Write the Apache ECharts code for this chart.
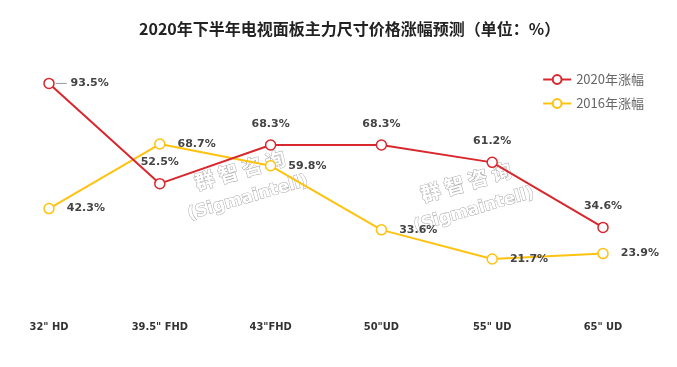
<!DOCTYPE html>
<html><head><meta charset="utf-8">
<script src="https://cdn.jsdelivr.net/npm/echarts@6/dist/echarts.min.js"></script>
<style>html,body{margin:0;padding:0;background:#fff}#c{width:677px;height:367px}</style>
</head><body><div id="c"></div>
<script>
const categories = ['32" HD', '39.5" FHD', '43"FHD', '50"UD', '55" UD', '65" UD'];
const series2020 = [93.5, 52.5, 68.3, 68.3, 61.2, 34.6];
const series2016 = [42.3, 68.7, 59.8, 33.6, 21.7, 23.9];
const seriesNames = ['2020年涨幅', '2016年涨幅'];

const RED = '#d9272e', YEL = '#ffc20e';
const chart = echarts.init(document.getElementById('c'));
const labelBase = {show: true, fontFamily: 'DejaVu Sans', fontWeight: 'bold', fontSize: 11, color: '#444',
  formatter: p => p.value + '%'};
function wm(x, y) {
  return {
    type: 'group', x: x, y: y, rotation: 0.28, z: 100,
    children: [
      {type: 'text', x: 0, y: 0, style: {text: '群 智 咨 询', font: 'bold 20px "Noto Sans CJK SC"', fill: '#fff', stroke: '#aaa', lineWidth: 1, align: 'center', verticalAlign: 'middle'}},
      {type: 'text', x: 0, y: 29, style: {text: '(Sigmaintell)', font: 'bold 17px "DejaVu Sans"', fill: '#fff', stroke: '#aaa', lineWidth: 1, align: 'center', verticalAlign: 'middle'}}
    ]
  };
}
chart.setOption({
  backgroundColor: '#fff',
  animation: false,
  title: {text: '2020年下半年电视面板主力尺寸价格涨幅预测（单位：%）', left: 134, top: 16,
    textStyle: {fontFamily: '"Noto Sans CJK SC"', fontWeight: 'bold', fontSize: 16, color: '#222'}},
  legend: {orient: 'vertical', right: 28, top: 68, itemGap: 11, itemWidth: 28, itemHeight: 11,
    textStyle: {fontFamily: '"Noto Sans CJK SC"', fontSize: 13, color: '#666'},
    data: seriesNames},
  grid: {left: 49, right: 74, top: 67.5, bottom: 55},
  xAxis: {type: 'category', data: categories, boundaryGap: false,
    axisLine: {show: false}, axisTick: {show: false}, splitLine: {show: false},
    axisLabel: {margin: 10, fontFamily: '"DejaVu Sans Condensed", "DejaVu Sans"', fontWeight: 'bold', fontSize: 11, color: '#333'}},
  yAxis: {type: 'value', min: 0, max: 100, show: false, splitLine: {show: false}},
  series: [
    {name: seriesNames[0], type: 'line', data: series2020.map((v, i) => i === 0 ? {value: v, label: {position: 'right', distance: 1,
        formatter: '{ln|} {v|' + v + '%}',
        rich: {ln: {width: 11, height: 1, backgroundColor: '#999'}, v: {fontFamily: 'DejaVu Sans', fontWeight: 'bold', fontSize: 11, color: '#444'}}}} : v),
      symbol: 'circle', symbolSize: 10, color: RED,
      itemStyle: {color: '#fff', borderColor: RED, borderWidth: 1.5},
      lineStyle: {color: RED, width: 2},
      label: Object.assign({}, labelBase, {position: 'top', distance: 10}), z: 3},
    {name: seriesNames[1], type: 'line', data: series2016,
      symbol: 'circle', symbolSize: 10, color: YEL,
      itemStyle: {color: '#fff', borderColor: YEL, borderWidth: 1.5},
      lineStyle: {color: YEL, width: 2},
      label: Object.assign({}, labelBase, {position: 'right', distance: 12}), z: 2}
  ],
  graphic: [wm(240, 170), wm(466, 182)]
});
</script></body></html>
